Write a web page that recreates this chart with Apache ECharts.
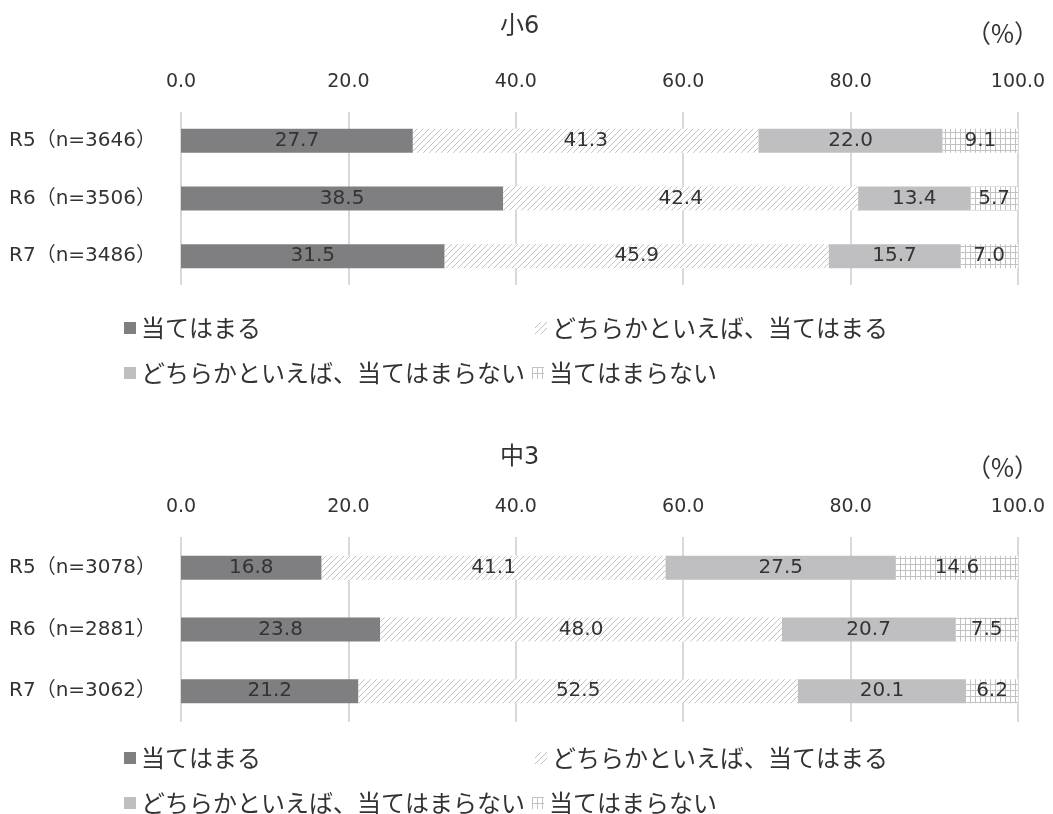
<!DOCTYPE html>
<html><head><meta charset="utf-8">
<script src="https://cdn.jsdelivr.net/npm/echarts@6/dist/echarts.min.js"></script>
<style>html,body{margin:0;padding:0;background:#fff}#c{width:1053px;height:814px}</style>
</head><body><div id="c"></div>
<script>
const seriesNames = ['当てはまる','どちらかといえば、当てはまる','どちらかといえば、当てはまらない','当てはまらない'];
const catsE = ['R5（n=3646）','R6（n=3506）','R7（n=3486）'];
const catsJ = ['R5（n=3078）','R6（n=2881）','R7（n=3062）'];
const e_a = [27.7, 38.5, 31.5];
const e_b = [41.3, 42.4, 45.9];
const e_c = [22.0, 13.4, 15.7];
const e_d = [9.1, 5.7, 7.0];
const j_a = [16.8, 23.8, 21.2];
const j_b = [41.1, 48.0, 52.5];
const j_c = [27.5, 20.7, 20.1];
const j_d = [14.6, 7.5, 6.2];
const xTicks = [0, 20, 40, 60, 80, 100];

const FONT = '"DejaVu Sans", "Noto Sans CJK JP", sans-serif';
const JFONT = '"Noto Sans CJK JP", "DejaVu Sans", sans-serif';

function hatch(){
  const c = document.createElement('canvas'); c.width = 6; c.height = 6;
  const g = c.getContext('2d');
  g.fillStyle = '#fff'; g.fillRect(0,0,6,6);
  g.strokeStyle = '#c2c2c2'; g.lineWidth = 1;
  g.beginPath();
  g.moveTo(0,6); g.lineTo(6,0);
  g.moveTo(-1,1); g.lineTo(1,-1);
  g.moveTo(5,7); g.lineTo(7,5);
  g.stroke();
  return c;
}
function gridPat(){
  const c = document.createElement('canvas'); c.width = 5; c.height = 6;
  const g = c.getContext('2d');
  g.fillStyle = '#fff'; g.fillRect(0,0,5,6);
  g.fillStyle = '#c2c2c2';
  g.fillRect(0,0,1,6);
  g.fillRect(0,0,5,1);
  return c;
}
const colA = '#7f7f82';
const colB = {image: hatch(), repeat: 'repeat'};
const colC = '#bfbfc2';
const colD = {image: gridPat(), repeat: 'repeat'};
const colors = [colA, colB, colC, colD];

const chart = echarts.init(document.getElementById('c'));

function mkSeries(idx, dataArrs, stackName){
  return dataArrs.map((d, i) => ({
    name: seriesNames[i], type: 'bar', stack: stackName,
    xAxisIndex: idx, yAxisIndex: idx,
    data: d, barWidth: 24,
    itemStyle: {color: colors[i]},
    label: {show: true, position: 'inside', color: '#333', fontSize: 20, fontFamily: FONT,
      formatter: p => p.value.toFixed(1)},
    emphasis: {disabled: true}
  }));
}

function xAx(idx, margin){
  return {gridIndex: idx, type: 'value', position: 'top', min: 0, max: 100, interval: 20,
    axisLine: {show: false}, axisTick: {show: false},
    axisLabel: {margin: margin, color: '#333', fontSize: 19, fontFamily: FONT, formatter: v => v.toFixed(1)},
    splitLine: {show: true, lineStyle: {color: '#d9d9d9', width: 2}}};
}
function yAx(idx, cats){
  return {gridIndex: idx, type: 'category', data: cats, inverse: true,
    axisLine: {show: false}, axisTick: {show: false},
    axisLabel: {margin: 25, color: '#333', fontSize: 20, fontFamily: FONT}};
}

function legendsAt(rowTop1, rowTop2){
  const base = {icon: 'rect', itemWidth: 12, itemHeight: 12, itemGap: 6, selectedMode: false,
    textStyle: {color: '#333', fontSize: 24, fontFamily: JFONT}};
  return [
    Object.assign({}, base, {left: 119, top: rowTop1, data: [seriesNames[0]]}),
    Object.assign({}, base, {left: 530, top: rowTop1, data: [seriesNames[1]]}),
    Object.assign({}, base, {left: 119, top: rowTop2, data: [seriesNames[2]]}),
    Object.assign({}, base, {left: 527, top: rowTop2, data: [seriesNames[3]]})
  ];
}

const titleStyle = {fontSize: 24, fontWeight: 'normal', color: '#333', fontFamily: FONT};
const pctStyle = {fontSize: 25, fontWeight: 'normal', color: '#333', fontFamily: JFONT};

const option = {
  animation: false,
  backgroundColor: '#fff',
  title: [
    {text: '小6', left: 495, top: 10, textStyle: titleStyle},
    {text: '（%）', left: 961, top: 16, textStyle: pctStyle},
    {text: '中3', left: 495, top: 441, textStyle: titleStyle},
    {text: '（%）', left: 961, top: 450, textStyle: pctStyle}
  ],
  legend: legendsAt(311, 356).concat(legendsAt(741, 786)),
  grid: [
    {left: 181, right: 35, top: 112, height: 173},
    {left: 181, right: 35, top: 537, height: 185}
  ],
  xAxis: [xAx(0, 20), xAx(1, 20)],
  yAxis: [yAx(0, catsE), yAx(1, catsJ)],
  series: mkSeries(0, [e_a, e_b, e_c, e_d], 'e').concat(mkSeries(1, [j_a, j_b, j_c, j_d], 'j'))
};
chart.setOption(option);
</script>
</body></html>
